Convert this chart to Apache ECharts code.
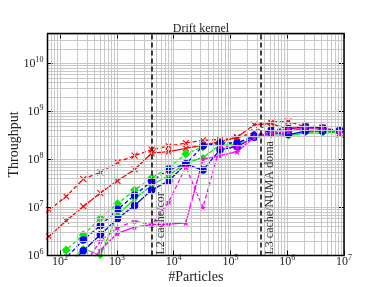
<!DOCTYPE html>
<html><head><meta charset="utf-8">
<script src="https://cdn.jsdelivr.net/npm/echarts@6/dist/echarts.min.js"></script>
<style>html,body{margin:0;padding:0;background:#fff}#c{width:382px;height:287px}</style>
</head><body><div id="c"></div>
<script>
const titleText = 'Drift kernel';
const xTitle = '#Particles';
const yTitle = 'Throughput';
const particles = [64,128,256,512,1024,2048,4096,8192,16384,32768,65536,131072,262144,524288,1048576,2097152,4194304,8388608];
const redSolid    = [2.5e6,5.3e6,1.05e7,2.0e7,3.6e7,6.2e7,1.35e8,1.45e8,1.7e8,2.0e8,2.35e8,2.9e8,5.3e8,5.6e8,4.3e8,4.8e8,4.5e8,3.5e8];
const redDashed   = [8.9e6,1.7e7,3.9e7,5.4e7,8.7e7,1.2e8,1.6e8,1.9e8,2.2e8,2.5e8,2.6e8,2.8e8,3.7e8,6.0e8,6.2e8,4.8e8,4.6e8,3.3e8];
const greenSolid  = [3e5,6e5,1.4e6,1.0e6,7.0e6,1.5e7,2.9e7,4.7e7,8.3e7,1.1e8,2.0e8,2.0e8,2.8e8,3.3e8,3.1e8,3.6e8,3.5e8,3.8e8];
const greenDashed = [6e5,1.3e6,2.7e6,6.0e6,1.2e7,2.3e7,4.1e7,6.7e7,1.3e8,1.85e8,2.2e8,2.2e8,3.0e8,3.5e8,3.9e8,4.4e8,4.3e8,3.9e8];
const blueSolid   = [2.5e5,5.5e5,1.25e6,2.7e6,5.8e6,1.1e7,2.3e7,3.6e7,8.0e7,6.0e7,1.6e8,1.85e8,2.9e8,3.6e8,3.3e8,3.9e8,3.9e8,4.0e8];
const blueDashed  = [4e5,9e5,2.1e6,4.2e6,9.1e6,1.8e7,3.5e7,6.2e7,8.0e7,1.9e8,2.2e8,2.2e8,3.1e8,4.1e8,4.4e8,4.8e8,4.5e8,4.0e8];
const magSolid    = [1e5,2e5,4.5e5,1.3e6,2.9e6,3.9e6,4.4e6,4.5e6,4.8e6,1.0e8,1.2e8,1.45e8,2.9e8,3.5e8,3.8e8,4.6e8,4.2e8,3.8e8];
const magDashed   = [1.5e5,3e5,6e5,2.0e6,3.8e6,5.2e6,4.4e6,1.3e7,7.0e7,1.0e7,1.85e8,1.85e8,2.9e8,3.7e8,4.4e8,4.9e8,4.8e8,3.6e8];
const vLines = [{x: 4096, text: 'L2 cache/cor'}, {x: 340000, text: 'L3 cache/NUMA doma'}];
const xMin = 60, xMax = 1e7, yMin = 1e6, yMax = 4.2e10;

const serif = 'Liberation Serif';
const xMinor = [], yMinor = [];
for (let e = 1; e <= 7; e++) for (let m = 2; m <= 9; m++) { const v = m * Math.pow(10, e); if (v > xMin && v < xMax) xMinor.push(v); }
for (let e = 6; e <= 10; e++) for (let m = 2; m <= 9; m++) { const v = m * Math.pow(10, e); if (v > yMin && v < yMax) yMinor.push(v); }

function pow10Label(v) {
  const l = Math.log10(v), e = Math.round(l);
  if (Math.abs(l - e) > 1e-6) return '';
  return '{b|10}{s|' + e + '}';
}
const rich = {
  b: {fontFamily: serif, fontSize: 12, color: '#222'},
  s: {fontFamily: serif, fontSize: 8, color: '#222', padding: [0, 0, 8, 0]}
};
const xStar = 'path://M0,0L10,10M10,0L0,10';
const star = 'path://M50,0L61,35L98,35L68,57L79,91L50,70L21,91L32,57L2,35L39,35Z';

function mk(name, data, color, dashed, symbol, size, stroked) {
  return {
    type: 'line', name, data: particles.map((p, i) => [p, data[i]]),
    symbol, symbolSize: size, showSymbol: true, clip: true, z: 3,
    lineStyle: {color, width: 1.3, type: dashed ? [4, 2.5] : 'solid'},
    itemStyle: stroked ? {color: 'rgba(0,0,0,0)', borderColor: color, borderWidth: 1.1} : {color, borderColor: color, borderWidth: 0},
    emphasis: {disabled: true}, animation: false
  };
}
function tickAxis(kind, pos, min, max, values, len) {
  return {
    type: 'log', min, max, position: pos,
    axisLine: {show: false},
    axisTick: {show: true, inside: true, length: len, lineStyle: {color: '#000', width: 1}, customValues: values},
    axisLabel: {show: false}, splitLine: {show: false}
  };
}
const chart = echarts.init(document.getElementById('c'), null, {renderer: 'canvas'});
chart.setOption({
  animation: false,
  backgroundColor: '#fff',
  title: {text: titleText, left: 196, top: 18, textAlign: 'center', textStyle: {fontFamily: serif, fontSize: 12, fontWeight: 'normal', color: '#222'}},
  grid: {left: 47.5, right: 38, top: 33.5, bottom: 31.5, containLabel: false, outerBoundsMode: 'none', show: true, borderColor: '#000', borderWidth: 1.5, backgroundColor: 'transparent', z: 10},
  xAxis: [{
    type: 'log', min: xMin, max: xMax, logBase: 10,
    name: xTitle, nameLocation: 'middle', nameGap: 15, nameMoveOverlap: false, nameTextStyle: {fontFamily: serif, fontSize: 14, color: '#222'},
    axisLine: {show: false}, axisTick: {show: true, inside: true, length: 5, lineStyle: {color: '#000'}},
    axisLabel: {formatter: pow10Label, rich, margin: -2},
    splitLine: {show: true, lineStyle: {color: '#c8c8c8', width: 1}}
  },
    tickAxis('x', 'top', xMin, xMax, undefined, 5),
    tickAxis('x', 'bottom', xMin, xMax, xMinor, 2.5),
    tickAxis('x', 'top', xMin, xMax, xMinor, 2.5)
  ],
  yAxis: [{
    type: 'log', min: yMin, max: yMax, logBase: 10,
    name: yTitle, nameLocation: 'middle', nameGap: 26, nameMoveOverlap: false, nameTextStyle: {fontFamily: serif, fontSize: 14, color: '#222'},
    axisLine: {show: false}, axisTick: {show: true, inside: true, length: 5, lineStyle: {color: '#000'}},
    axisLabel: {formatter: pow10Label, rich, margin: 4},
    splitLine: {show: true, lineStyle: {color: '#c8c8c8', width: 1}}
  },
    tickAxis('y', 'right', yMin, yMax, undefined, 5),
    tickAxis('y', 'left', yMin, yMax, yMinor, 2.5),
    tickAxis('y', 'right', yMin, yMax, yMinor, 2.5)
  ],
  series: [
    {type: 'line', data: [], z: 1, silent: true, markLine: {silent: true, symbol: ['none', 'none'], animation: false, label: {show: false},
      lineStyle: {color: '#c8c8c8', width: 1, type: 'solid'},
      data: xMinor.map(v => ({xAxis: v})).concat(yMinor.map(v => ({yAxis: v})))}},
    {type: 'line', data: [], z: 2, silent: true, markLine: {silent: true, symbol: ['none', 'none'], animation: false,
      lineStyle: {color: '#000', width: 1.5, type: [5, 3]},
      label: {show: true, position: 'insideStartBottom', distance: [1, 3], fontFamily: serif, fontSize: 12, color: '#333', formatter: p => p.name},
      data: vLines.map(o => ({xAxis: o.x, name: o.text}))}},
    mk('red-solid', redSolid, '#ff0000', false, xStar, 6, true),
    mk('red-dashed', redDashed, '#ff0000', true, xStar, 6, true),
    mk('green-solid', greenSolid, '#00ee00', false, 'diamond', 7, false),
    mk('green-dashed', greenDashed, '#00ee00', true, 'diamond', 9, false),
    mk('blue-solid', blueSolid, '#0000ff', false, 'circle', 7.5, false),
    mk('blue-dashed', blueDashed, '#0000ff', true, 'circle', 7.5, false),
    mk('mag-solid', magSolid, '#ff00ff', false, star, 7, false),
    mk('mag-dashed', magDashed, '#ff00ff', true, star, 7, false)
  ]
});
</script></body></html>
